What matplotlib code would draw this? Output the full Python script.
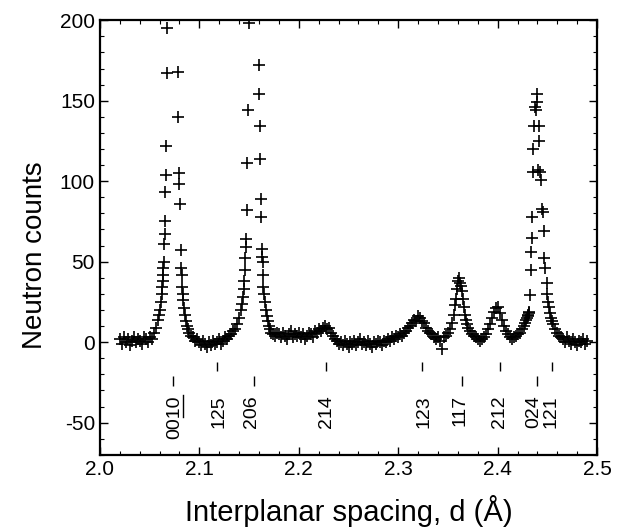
import matplotlib
matplotlib.use("Agg")
import matplotlib.pyplot as plt
import numpy as np
from matplotlib.lines import Line2D
from matplotlib.ticker import MultipleLocator
from matplotlib.transforms import IdentityTransform

# ---- data -----------------------------------------------------------------
# background left of the (0 0 10) peak
D_BG1 = [2.020, 2.022, 2.024, 2.026, 2.028, 2.030, 2.032, 2.034, 2.036, 2.038,
         2.040, 2.042, 2.044, 2.046, 2.048, 2.050, 2.052, 2.054, 2.056, 2.058]
C_BG1 = [2, -1, 3, 0, 2, -2, 1, 3, 0, 2,
         1, -1, 3, 2, 0, 3, 2, 6, 9, 14]

# (0 0 10) peak, top clipped at 200
D_0010 = [2.059, 2.060, 2.061, 2.062, 2.0625, 2.063, 2.0635, 2.064, 2.0645, 2.065,
          2.0653, 2.0656, 2.066, 2.0664, 2.0668, 2.0672, 2.068,
          2.0785, 2.079, 2.0795, 2.080, 2.0808, 2.0815, 2.082, 2.0825, 2.083, 2.0835,
          2.084, 2.085, 2.086, 2.087, 2.088, 2.089, 2.090, 2.092, 2.094, 2.096, 2.098]
C_0010 = [17, 20, 25, 30, 34, 38, 42, 46, 50, 61,
          67, 75, 93, 104, 122, 167, 195,
          168, 140, 105, 98, 86, 57, 46, 42, 34, 30,
          26, 21, 17, 13, 10, 8, 6, 4, 3, 1, 2]

# background between (0 0 10) and (2 0 6)
D_BG2 = [2.100, 2.102, 2.104, 2.106, 2.108, 2.110, 2.112, 2.114, 2.116, 2.118,
         2.120, 2.122, 2.124, 2.126, 2.128, 2.130, 2.132, 2.134, 2.136, 2.138]
C_BG2 = [0, -2, 1, -1, -3, 0, -2, 1, -1, 0,
         2, -1, 1, 3, 2, 4, 5, 7, 8, 11]

# (2 0 6) peak, top clipped at 200
D_206 = [2.140, 2.142, 2.143, 2.144, 2.1445, 2.145, 2.1455, 2.146, 2.1465, 2.147,
         2.1475, 2.148, 2.149, 2.150,
         2.1598, 2.1603, 2.1608, 2.1613, 2.1618, 2.1625, 2.163, 2.1633, 2.1637, 2.164,
         2.1645, 2.165, 2.166, 2.167, 2.168, 2.169, 2.170, 2.171, 2.172, 2.174,
         2.176, 2.178]
C_206 = [15, 20, 24, 28, 33, 38, 45, 52, 59, 64,
         82, 111, 144, 198,
         172, 154, 134, 114, 89, 78, 58, 53, 50, 42,
         34, 30, 25, 20, 16, 13, 10, 8, 6, 5,
         4, 6]

# background with the small (2 1 4), (1 2 3), (1 1 7), (2 1 2) peaks
D_BG3 = [2.180, 2.182, 2.184, 2.186, 2.188, 2.190, 2.192, 2.194, 2.196, 2.198,
         2.200, 2.202, 2.204, 2.206, 2.208, 2.210, 2.212, 2.214, 2.216, 2.218,
         2.220, 2.222, 2.224, 2.226, 2.228, 2.230, 2.232, 2.234, 2.236, 2.238,
         2.240, 2.242, 2.244, 2.246, 2.248, 2.250, 2.252, 2.254, 2.256, 2.258,
         2.260, 2.262, 2.264, 2.266, 2.268, 2.270, 2.272, 2.274, 2.276, 2.278,
         2.280, 2.282, 2.284, 2.286, 2.288, 2.290, 2.292, 2.294, 2.296, 2.298,
         2.300, 2.302, 2.304, 2.306, 2.308, 2.310, 2.312, 2.314, 2.316, 2.318,
         2.320, 2.322, 2.324, 2.326, 2.328, 2.330, 2.332, 2.334, 2.336, 2.338,
         2.340, 2.342, 2.344, 2.346, 2.348, 2.350, 2.352, 2.354, 2.356, 2.357,
         2.358, 2.359, 2.360, 2.361, 2.362, 2.363, 2.364, 2.365, 2.366, 2.367,
         2.368, 2.369, 2.370, 2.372, 2.374, 2.376, 2.378, 2.380, 2.382, 2.384,
         2.386, 2.388, 2.390, 2.392, 2.394, 2.396, 2.398, 2.400, 2.402, 2.404,
         2.406, 2.408, 2.410, 2.412, 2.414, 2.416, 2.418, 2.420]
C_BG3 = [5, 3, 6, 4, 2, 5, 7, 3, 5, 4,
         6, 3, 5, 2, 4, 6, 5, 3, 7, 6,
         8, 7, 9, 10, 8, 9, 6, 4, 2, 1,
         -1, 0, -2, 1, -1, -3, 0, -1, 1, -2,
         0, 2, -1, 0, -2, 1, -1, -3, 0, -1,
         1, 0, -2, 1, 0, 2, 1, 3, 2, 4,
         3, 5, 4, 6, 7, 9, 10, 12, 14, 13,
         16, 15, 13, 12, 9, 7, 6, 5, 3, 2,
         3, 1, -4, 3, 4, 6, 8, 12, 17, 23,
         27, 33, 38, 40, 37, 35, 32, 27, 22, 17,
         14, 11, 9, 7, 5, 4, 3, 2, 1, 2,
         3, 5, 8, 11, 15, 19, 21, 22, 18, 14,
         10, 7, 5, 3, 2, 3, 4, 5]

# (0 2 4) peak
D_024 = [2.422, 2.424, 2.426, 2.427, 2.428, 2.429, 2.430, 2.4305, 2.4312, 2.4319,
         2.4326, 2.4332, 2.4337, 2.4343, 2.4349, 2.4354, 2.4359, 2.4369, 2.4380, 2.4386,
         2.4393, 2.4400, 2.4406, 2.4412, 2.4420, 2.4427, 2.4440, 2.4450, 2.4457, 2.4463,
         2.4470, 2.4477, 2.4494, 2.450, 2.451, 2.452, 2.453, 2.454, 2.455, 2.456,
         2.458, 2.460, 2.462, 2.464]
C_024 = [6, 8, 10, 12, 14, 15, 17, 16, 18, 19,
         29, 45, 56, 65, 78, 106, 120, 134, 146, 144,
         154, 149, 107, 134, 125, 106, 101, 83, 81, 69,
         52, 46, 37, 30, 25, 22, 18, 15, 13, 11,
         8, 6, 4, 3]

# background right of (0 2 4)
D_BG4 = [2.466, 2.468, 2.470, 2.472, 2.474, 2.476, 2.478, 2.480, 2.482, 2.484,
         2.486, 2.488, 2.490]
C_BG4 = [2, 0, 3, 1, -1, 2, 0, -2, 1, 0, 2, -1, 1]

# reflection markers and where their labels are written
REFL_D = [2.0737, 2.1177, 2.1549, 2.2271, 2.3239, 2.3639, 2.4024, 2.4393, 2.4544]
REFL_LABEL_D = [2.0750, 2.1200, 2.1525, 2.2280, 2.3255, 2.3620, 2.4020, 2.4360, 2.4535]
REFL_LABELS = ["0010", "125", "206", "214", "123", "117", "212", "024", "121"]
REFL_LOWER = [True, False, True, False, False, True, False, True, False]

# ---- figure ----------------------------------------------------------------
plt.rcParams["font.family"] = ["Liberation Sans", "DejaVu Sans"]
plt.rcParams["axes.unicode_minus"] = False

d = np.concatenate([D_BG1, D_0010, D_BG2, D_206, D_BG3, D_024, D_BG4])
counts = np.concatenate([C_BG1, C_0010, C_BG2, C_206, C_BG3, C_024, C_BG4])

fig = plt.figure(figsize=(6.24, 5.32), dpi=100)
ax = fig.add_axes([0.160, 0.145, 0.797, 0.817])

ax.plot(d, counts, ls="none", marker="+", ms=8, mew=1.2, color="black")

texts = []
for x, xl, lab, lower in zip(REFL_D, REFL_LABEL_D, REFL_LABELS, REFL_LOWER):
    lo, hi = (-27.5, -21) if lower else (-18, -12.5)
    ax.vlines(x, lo, hi, color="black", lw=1.0)
    texts.append(ax.text(xl, -33, lab, rotation=90, ha="center", va="top", fontsize=14))

ax.set_xlim(2.0, 2.5)
ax.set_ylim(-70, 200)
ax.xaxis.set_major_locator(MultipleLocator(0.1))
ax.xaxis.set_minor_locator(MultipleLocator(0.02))
ax.yaxis.set_major_locator(MultipleLocator(50))
ax.yaxis.set_minor_locator(MultipleLocator(10))
ax.xaxis.set_major_formatter(plt.FormatStrFormatter("%.1f"))
ax.tick_params(which="both", direction="in", top=True, right=True, labelsize=15)
ax.tick_params(which="major", length=6, width=1.0)
ax.tick_params(which="minor", length=3, width=0.8)
for sp in ax.spines.values():
    sp.set_linewidth(1.6)

ax.set_xlabel("Interplanar spacing, d (Å)", fontsize=21)
ax.set_ylabel("Neutron counts", fontsize=20)
ax.xaxis.set_label_coords(0.5, -0.093)
ax.yaxis.set_label_coords(-0.104, 0.46)

# underline the "10" of (0 0 10): the label is rotated, so the line sits to its right
fig.canvas.draw()
bb = texts[0].get_window_extent(fig.canvas.get_renderer())
fig.add_artist(Line2D([bb.x1, bb.x1], [bb.y0 + bb.height / 2, bb.y1],
                      transform=IdentityTransform(), color="black", lw=1.0))

fig.savefig("out.png", dpi=100)
